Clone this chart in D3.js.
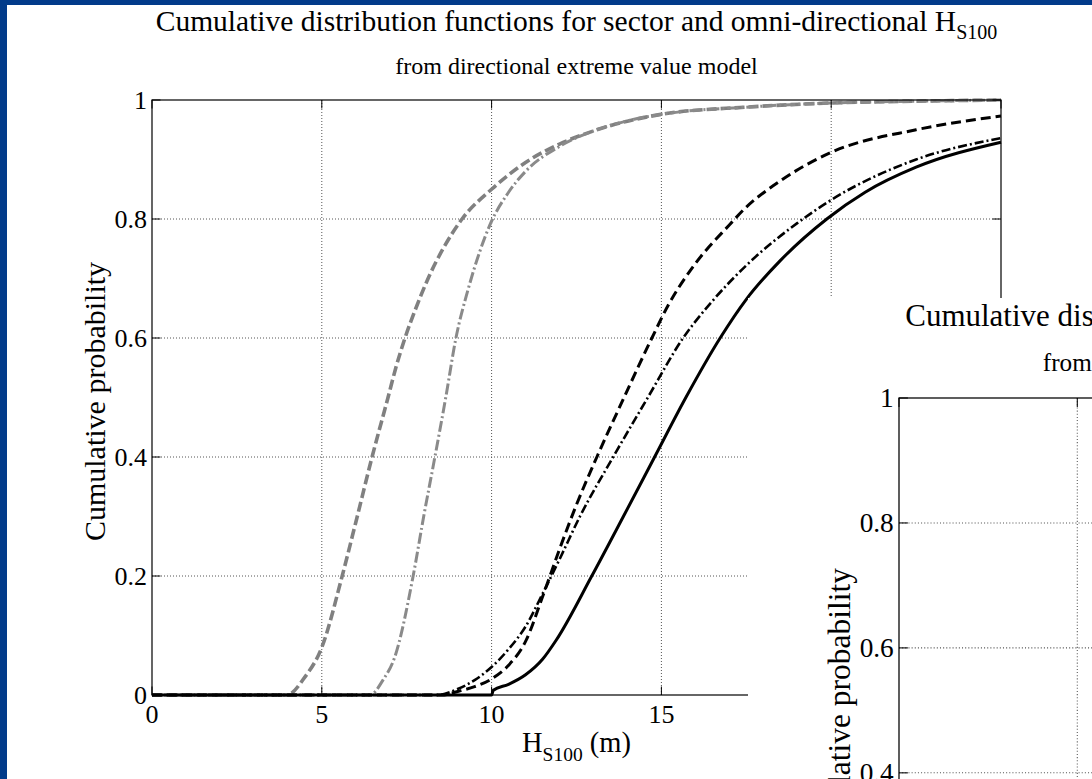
<!DOCTYPE html>
<html>
<head>
<meta charset="utf-8">
<script src="https://cdn.jsdelivr.net/npm/d3@7"></script>
<style>
body{margin:0;background:#fff;overflow:hidden;}
svg{display:block;}
</style>
</head>
<body>
<svg id="canvas" width="1092" height="779"></svg>
<script>
// values: H_S100 (m) and cumulative probability
let grayDashH=[0,3.97,4.5,5,5.6,6,6.48,6.95,7.18,7.45,7.77,8.13,8.57,9.13,10,11,12,13,15,17.5,20,22.5,25];
let grayDashP=[0,0,0.03,0.08,0.2,0.29,0.4,0.5,0.55,0.6,0.65,0.7,0.75,0.8,0.85,0.895,0.926,0.948,0.976,0.988,0.995,0.998,1];
let grayDotH=[0,6.42,6.8,7.15,7.69,8,8.33,8.65,8.95,9.3,9.65,9.95,10.5,11,12,13,14,15,17.5,20,22.5,25];
let grayDotP=[0,0,0.025,0.064,0.2,0.3,0.4,0.5,0.6,0.68,0.745,0.79,0.845,0.88,0.922,0.948,0.965,0.976,0.988,0.995,0.998,1];
let blackDashH=[0,8.54,9,9.5,10,10.5,11,11.5,12,12.5,13.1,13.9,14.72,15.2,16,17,17.5,18.5,20,22.5,25];
let blackDashP=[0,0,0.006,0.014,0.027,0.05,0.09,0.165,0.245,0.32,0.4,0.5,0.6,0.655,0.725,0.79,0.82,0.864,0.912,0.95,0.973];
let blackDotH=[0,8.4,9,9.5,10,10.5,11,11.5,12,12.6,13.58,14.6,15.64,16.5,17.5,19,20,22.5,25];
let blackDotP=[0,0,0.01,0.025,0.047,0.077,0.115,0.17,0.228,0.3,0.4,0.5,0.6,0.662,0.722,0.793,0.832,0.9,0.936];
let solidH=[0,10,10.05,10.5,11,11.5,11.9,12.95,13.88,14.8,15.72,16.73,17.5,18.5,19.87,21,22.5,25];
let solidP=[0,0,0.008,0.018,0.034,0.06,0.092,0.2,0.3,0.4,0.5,0.6,0.665,0.73,0.8,0.845,0.887,0.929];

let xTicks=[0,5,10,15,20,25];
let yTicks=[0,0.2,0.4,0.6,0.8,1];

let series=[
  {h:grayDashH,p:grayDashP,color:"#808080",width:3.6,dash:"10,4"},
  {h:grayDotH,p:grayDotP,color:"#8a8a8a",width:3,dash:"11,3,2,3"},
  {h:blackDashH,p:blackDashP,color:"#000",width:3,dash:"10,5"},
  {h:blackDotH,p:blackDotP,color:"#000",width:2.6,dash:"9,3,2,3"},
  {h:solidH,p:solidP,color:"#000",width:3,dash:null}
];

let canvas=d3.select("#canvas");
let w=849, h=595;
let font="'Liberation Serif', serif";

let xScale=d3.scaleLinear().domain([0,25]).range([0,w]);
let yScale=d3.scaleLinear().domain([0,1]).range([h,0]);

function panel(g,title1,title2,t1x,t2x){
  // grid
  g.selectAll(".vg").data(xTicks.slice(1,-1)).enter().append("line")
    .attr("x1",d=>xScale(d)).attr("x2",d=>xScale(d)).attr("y1",0).attr("y2",h)
    .attr("stroke","#555").attr("stroke-width",1).attr("stroke-dasharray","1,2");
  g.selectAll(".hg").data(yTicks.slice(1,-1)).enter().append("line")
    .attr("x1",0).attr("x2",w).attr("y1",d=>yScale(d)).attr("y2",d=>yScale(d))
    .attr("stroke","#555").attr("stroke-width",1).attr("stroke-dasharray","1,2");

  let line=d3.line().x(d=>xScale(d[0])).y(d=>yScale(d[1])).curve(d3.curveMonotoneX);
  series.forEach(s=>{
    g.append("path").datum(s.h.map((v,i)=>[v,s.p[i]]))
      .attr("d",line).attr("fill","none").attr("stroke",s.color)
      .attr("stroke-width",s.width).attr("stroke-dasharray",s.dash);
  });

  // box and inward ticks
  g.append("rect").attr("width",w).attr("height",h).attr("fill","none").attr("stroke","#000").attr("stroke-width",1.2);
  let tl=8.5;
  xTicks.forEach(t=>{
    g.append("line").attr("x1",xScale(t)).attr("x2",xScale(t)).attr("y1",h).attr("y2",h-tl).attr("stroke","#000");
    g.append("line").attr("x1",xScale(t)).attr("x2",xScale(t)).attr("y1",0).attr("y2",tl).attr("stroke","#000");
    g.append("text").text(t).attr("x",xScale(t)).attr("y",h+28).attr("text-anchor","middle")
      .style("font",`26px ${font}`);
  });
  yTicks.forEach(t=>{
    g.append("line").attr("x1",0).attr("x2",tl).attr("y1",yScale(t)).attr("y2",yScale(t)).attr("stroke","#000");
    g.append("line").attr("x1",w).attr("x2",w-tl).attr("y1",yScale(t)).attr("y2",yScale(t)).attr("stroke","#000");
    g.append("text").text(t).attr("x",-5).attr("y",yScale(t)+9).attr("text-anchor","end")
      .style("font",`26px ${font}`);
  });

  // titles
  let t1=g.append("text").attr("x",t1x==null?w/2:t1x).attr("y",-69)
    .attr("text-anchor",t1x==null?"middle":"start").style("font",`29.5px ${font}`);
  t1.append("tspan").text(title1);
  t1.append("tspan").text("S100").attr("dy",8).style("font-size","20px");
  g.append("text").text(title2).attr("x",t2x==null?w/2:t2x).attr("y",-26)
    .attr("text-anchor",t2x==null?"middle":"start").style("font",`24px ${font}`);

  let xl=g.append("text").attr("x",w/2).attr("y",h+57).attr("text-anchor","middle").style("font",`28.5px ${font}`);
  xl.append("tspan").text("H");
  xl.append("tspan").text("S100").attr("dy",9).style("font-size","19.5px");
  xl.append("tspan").text(" (m)").attr("dy",-9);

  g.append("text").text("Cumulative probability")
    .attr("transform",`translate(-47,${h/2+4}) rotate(-90)`).attr("text-anchor","middle")
    .style("font",`30px ${font}`);
}

// slide background
canvas.append("rect").attr("width",1092).attr("height",779).attr("fill","#fff");

let main=canvas.append("g").attr("transform","translate(152,100)");
panel(main,"Cumulative distribution functions for sector and omni-directional H","from directional extreme value model",null,null);

// second figure pasted on top, bottom right
canvas.append("rect").attr("x",748).attr("y",298).attr("width",344).attr("height",481).attr("fill","#fff");
let second=canvas.append("g").attr("transform","translate(899,398) scale(1.05)");
panel(second,"Cumulative distribution functions for sector and omni-directional H","from omni-directional extreme value model",6,137);

// drop labels of the second figure that lie wholly outside the window
second.selectAll("text").each(function(){
  let b=this.getBoundingClientRect();
  if(b.top>779||b.left>1092) d3.select(this).remove();
});

// slide border
canvas.append("rect").attr("x",0).attr("y",0).attr("width",7).attr("height",779).attr("fill","#023b8a");
canvas.append("rect").attr("x",0).attr("y",0).attr("width",1092).attr("height",5).attr("fill","#023b8a");
</script>
</body>
</html>
